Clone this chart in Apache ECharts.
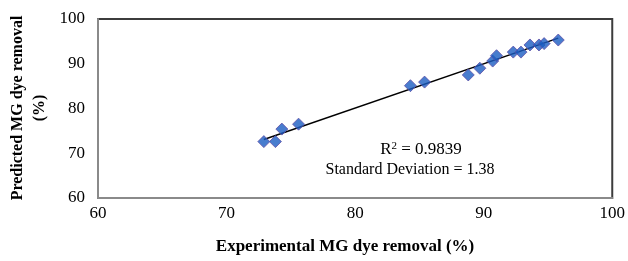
<!DOCTYPE html>
<html>
<head>
<meta charset="utf-8">
<script src="https://cdn.jsdelivr.net/npm/echarts@6/dist/echarts.min.js"></script>
<style>
html,body{margin:0;padding:0;background:#fff;}
#chart{width:628px;height:261px;}
</style>
</head>
<body>
<div id="chart"></div>
<script>
// Experimental vs predicted MG dye removal (%)
var experimental = [72.9, 73.8, 74.3, 75.6, 84.3, 85.4, 88.8, 89.7, 90.7, 91.0, 92.3, 92.9, 93.6, 94.3, 94.7, 95.8];
var predicted    = [72.6, 72.6, 75.4, 76.5, 85.1, 85.9, 87.5, 89.0, 90.6, 91.8, 92.6, 92.6, 94.2, 94.2, 94.5, 95.3];
var xTicks = [60, 70, 80, 90, 100];
var yTicks = [60, 70, 80, 90, 100];
var r2Text = 'R{sup|2} = 0.9839';
var sdText = 'Standard Deviation = 1.38';
var xTitle = 'Experimental MG dye removal (%)';
var yTitle = 'Predicted MG dye removal\n(%)';

var points = experimental.map(function (x, i) { return [x, predicted[i]]; });

// least-squares trendline from the data
var n = experimental.length, sx = 0, sy = 0, sxx = 0, sxy = 0;
for (var i = 0; i < n; i++) {
  sx += experimental[i]; sy += predicted[i];
  sxx += experimental[i] * experimental[i]; sxy += experimental[i] * predicted[i];
}
var slope = (n * sxy - sx * sy) / (n * sxx - sx * sx);
var icpt = (sy - slope * sx) / n;
var xMin = Math.min.apply(null, experimental), xMax = Math.max.apply(null, experimental);
var trend = [[xMin, icpt + slope * xMin], [xMax, icpt + slope * xMax]];

var serif = '"Liberation Serif", "Times New Roman", serif';
var chart = echarts.init(document.getElementById('chart'));
chart.setOption({
  animation: false,
  backgroundColor: '#ffffff',
  grid: { left: 98, right: 14, top: 19, bottom: 63, show: true, borderColor: '#3c3c3c', borderWidth: 2, backgroundColor: 'transparent' },
  xAxis: {
    type: 'value', min: xTicks[0], max: xTicks[xTicks.length - 1], interval: xTicks[1] - xTicks[0],
    axisLine: { show: true, lineStyle: { color: '#8a8a8a', width: 2 } },
    axisTick: { show: false },
    splitLine: { show: false },
    axisLabel: { color: '#000', fontFamily: serif, fontSize: 17, margin: 7 }
  },
  yAxis: {
    type: 'value', min: yTicks[0], max: yTicks[yTicks.length - 1], interval: yTicks[1] - yTicks[0],
    axisLine: { show: true, lineStyle: { color: '#8a8a8a', width: 2 } },
    axisTick: { show: false },
    splitLine: { show: false },
    axisLabel: { color: '#000', fontFamily: serif, fontSize: 17, margin: 13 }
  },
  graphic: [
    { type: 'text', x: 345, y: 247, style: { text: xTitle, fontFamily: serif, fontWeight: 'bold', fontSize: 17, fill: '#000', align: 'center', verticalAlign: 'middle' } },
    { type: 'text', x: 29, y: 108, rotation: Math.PI / 2, style: { text: yTitle, fontFamily: serif, fontWeight: 'bold', fontSize: 16, lineHeight: 22, fill: '#000', align: 'center', verticalAlign: 'middle' } },
    { type: 'text', x: 421, y: 150, style: { text: r2Text, fontFamily: serif, fontSize: 17, fill: '#000', align: 'center', verticalAlign: 'middle',
        rich: { sup: { fontFamily: serif, fontSize: 11, verticalAlign: 'top', padding: [0, 0, 8, 0] } } } },
    { type: 'text', x: 410, y: 170, style: { text: sdText, fontFamily: serif, fontSize: 16, fill: '#000', align: 'center', verticalAlign: 'middle' } }
  ],
  series: [
    {
      type: 'line', data: trend, showSymbol: false, symbol: 'none',
      lineStyle: { color: '#000', width: 1.5 }, z: 2
    },
    {
      type: 'scatter', data: points, symbol: 'diamond', symbolSize: 12,
      itemStyle: { color: '#1a5cc2', borderColor: '#5e4fa6', borderWidth: 1 }, z: 3
    }
  ]
});
</script>
</body>
</html>
